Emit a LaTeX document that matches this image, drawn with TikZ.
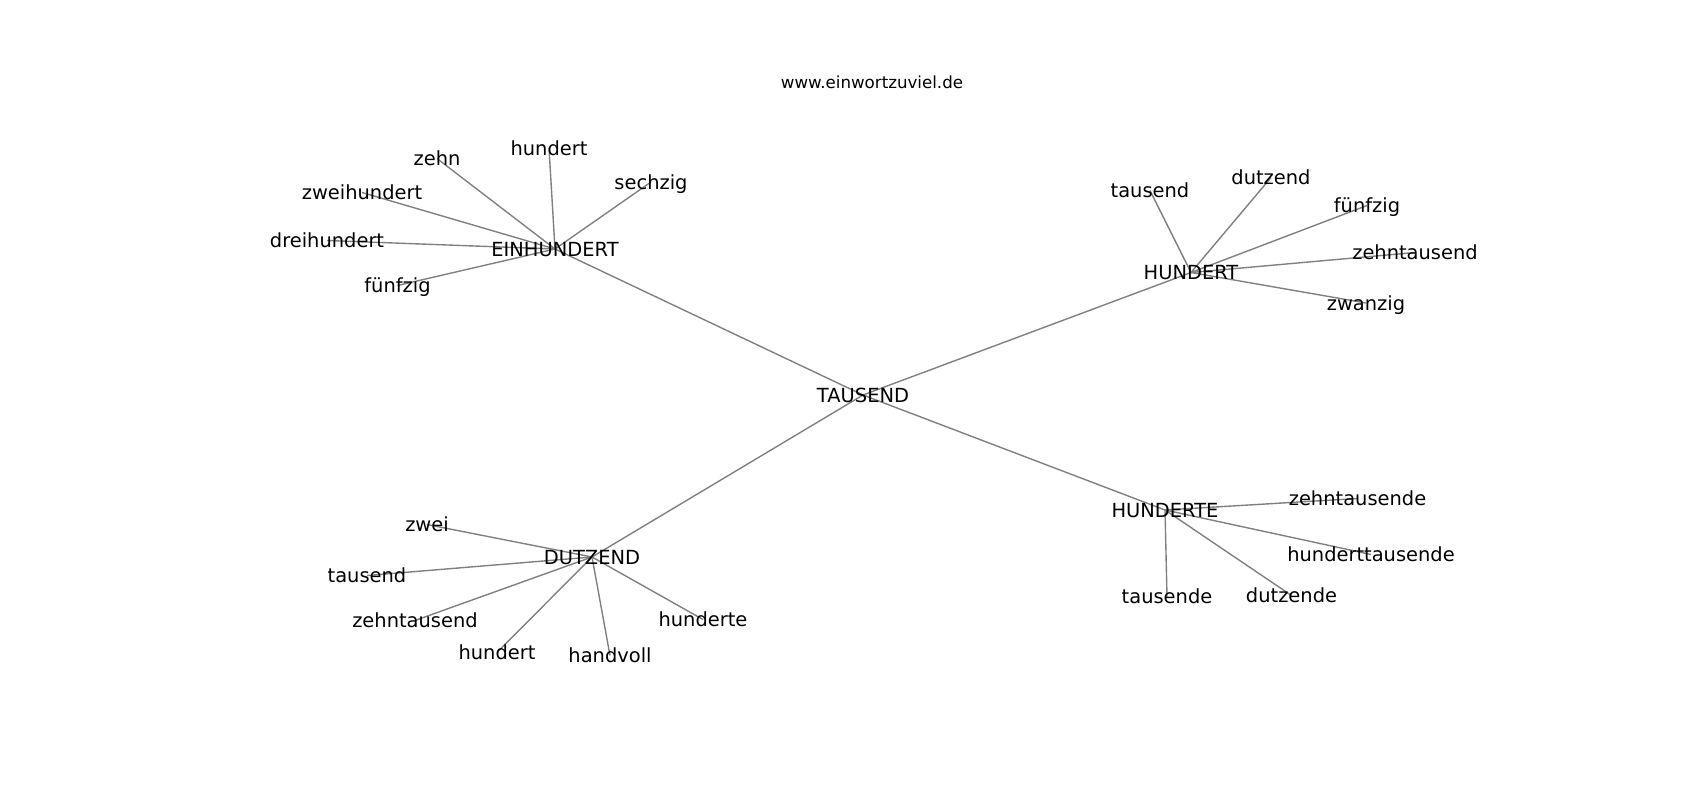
\documentclass[tikz,border=0pt]{standalone}
\usepackage{fontspec}
\setmainfont{DejaVu Sans}
\pgfdeclarelayer{bg}
\pgfsetlayers{bg,main}
\tikzset{
  word/.style={font=\fontsize{14}{16}\selectfont, inner sep=0pt, text height=10.64pt, text depth=0pt, anchor=center},
  titletext/.style={font=\fontsize{12}{14}\selectfont, inner sep=0pt, anchor=base},
  link/.style={draw=black!50, line width=1pt},
}
\begin{document}
\begin{tikzpicture}[x=0.72pt,y=-0.72pt]
\useasboundingbox (0,0) rectangle (1700,800);
\node[titletext] (title) at (872,88) {www.einwortzuviel.de};
% hubs
\node[word] (tau) at (863,395) {TAUSEND};
\node[word] (ein) at (555,249) {EINHUNDERT};
\node[word] (hun) at (1191,272.5) {HUNDERT};
\node[word] (dut) at (592,557) {DUTZEND};
\node[word] (hde) at (1165,510) {HUNDERTE};
% EINHUNDERT leaves
\node[word] (e1) at (437,158.5) {zehn};
\node[word] (e2) at (549,148) {hundert};
\node[word] (e3) at (651,182) {sechzig};
\node[word] (e4) at (362,192.5) {zweihundert};
\node[word] (e5) at (327,240.5) {dreihundert};
\node[word] (e6) at (397.5,285.5) {fünfzig};
% HUNDERT leaves
\node[word] (h1) at (1150,190.5) {tausend};
\node[word] (h2) at (1271,177.5) {dutzend};
\node[word] (h3) at (1367,205.5) {fünfzig};
\node[word] (h4) at (1415,252.5) {zehntausend};
\node[word] (h5) at (1366,303) {zwanzig};
% DUTZEND leaves
\node[word] (d1) at (427,524.5) {zwei};
\node[word] (d2) at (367,575.5) {tausend};
\node[word] (d3) at (415,620.5) {zehntausend};
\node[word] (d4) at (497,652.5) {hundert};
\node[word] (d5) at (610,655.5) {handvoll};
\node[word] (d6) at (703,619.5) {hunderte};
% HUNDERTE leaves
\node[word] (t1) at (1357.5,498.5) {zehntausende};
\node[word] (t2) at (1371,554.5) {hunderttausende};
\node[word] (t3) at (1167,596.5) {tausende};
\node[word] (t4) at (1291.5,595.5) {dutzende};
\begin{pgfonlayer}{bg}
\fill[white] (0,0) rectangle (1700,800);
\foreach \a/\b in {tau/ein,tau/hun,tau/dut,tau/hde,
  ein/e1,ein/e2,ein/e3,ein/e4,ein/e5,ein/e6,
  hun/h1,hun/h2,hun/h3,hun/h4,hun/h5,
  dut/d1,dut/d2,dut/d3,dut/d4,dut/d5,dut/d6,
  hde/t1,hde/t2,hde/t3,hde/t4}
  \draw[link] (\a.center) -- (\b.center);
\end{pgfonlayer}
\end{tikzpicture}
\end{document}
